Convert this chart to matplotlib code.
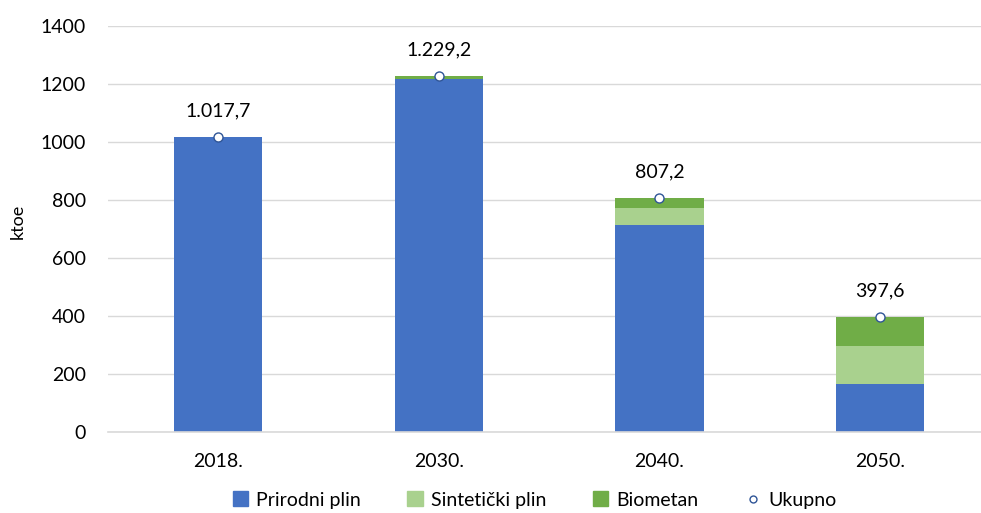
import matplotlib
matplotlib.use('Agg')
import matplotlib.pyplot as plt
from matplotlib.patches import Patch
from matplotlib.lines import Line2D
import numpy as np

plt.rcParams['font.family'] = ['Lato', 'DejaVu Sans']

# --- data ---
years = ['2018.', '2030.', '2040.', '2050.']
prirodni = [1017.7, 1218.0, 714.0, 167.0]
sinteticki = [0.0, 0.0, 57.0, 130.0]
biometan = [0.0, 11.2, 36.2, 100.6]
ukupno = [1017.7, 1229.2, 807.2, 397.6]
ukupno_labels = ['1.017,7', '1.229,2', '807,2', '397,6']

c_blue = '#4472C4'
c_light = '#A9D18E'
c_green = '#70AD47'
c_grid = '#D9D9D9'

fig = plt.figure(figsize=(9.81, 5.13), dpi=100)
ax = fig.add_axes([108 / 981, 81 / 513, 873 / 981, 406 / 513])

x = np.arange(len(years))
w = 0.4
p = np.array(prirodni)
s = np.array(sinteticki)
b = np.array(biometan)
ax.bar(x, p, w, color=c_blue, zorder=2)
ax.bar(x, s, w, bottom=p, color=c_light, zorder=2)
ax.bar(x, b, w, bottom=p + s, color=c_green, zorder=2)
ax.plot(x, ukupno, 'o', ls='none', ms=6.5, mfc='white', mec='#2F5597', mew=1.0, zorder=3)

# total labels above the markers
for xi, v, lab in zip(x, ukupno, ukupno_labels):
    ax.annotate(lab, (xi, v), xytext=(0, 14.5), textcoords='offset points',
                ha='center', va='baseline', fontsize=14, color='black')

ax.set_xlim(-0.5, 3.458)
ax.set_ylim(0, 1400)
ax.set_yticks(range(0, 1401, 200))
ax.set_xticks(x)
ax.set_xticklabels(years)
ax.tick_params(axis='both', length=0, labelsize=14, colors='black')
ax.tick_params(axis='x', pad=15)
ax.tick_params(axis='y', pad=16)
ax.grid(axis='y', color=c_grid, lw=1, zorder=0)
for side in ['top', 'right', 'left']:
    ax.spines[side].set_visible(False)
ax.spines['bottom'].set_color(c_grid)
ax.spines['bottom'].set_linewidth(1.2)
ax.set_ylabel('ktoe', fontsize=13)
ax.yaxis.set_label_coords(-0.094, 0.52)

handles = [
    Patch(color=c_blue, label='Prirodni plin'),
    Patch(color=c_light, label='Sintetički plin'),
    Patch(color=c_green, label='Biometan'),
    Line2D([], [], marker='o', ls='none', ms=5, mfc='white', mec='#2F5597', mew=1.0, label='Ukupno'),
]
fig.legend(handles=handles, loc='center', bbox_to_anchor=(0.545, 13 / 513),
           ncol=4, frameon=False, fontsize=14, handlelength=0.8, handleheight=0.8,
           handletextpad=0.4, columnspacing=2.4)

fig.savefig('out.png', dpi=100)
